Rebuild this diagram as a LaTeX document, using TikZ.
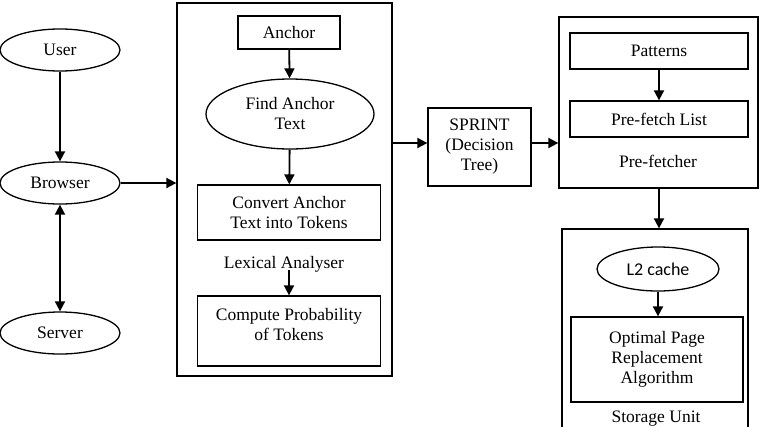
\documentclass[tikz,border=0pt]{standalone}
\usepackage{fontspec}
\setmainfont{Liberation Serif}
\newfontfamily\calib{Carlito}
\usetikzlibrary{shapes.geometric,arrows.meta}
\tikzset{
  arr/.style={line width=1.8pt,-{Triangle[length=10pt,width=10pt]}},
  dblarr/.style={line width=1.8pt,{Triangle[length=10pt,width=10pt]}-{Triangle[length=10pt,width=10pt]}},
  box/.style={draw,line width=1.3pt,inner sep=0pt,align=center,font=\fontsize{17.5}{20}\selectfont},
  ell/.style={ellipse,draw,line width=1.3pt,inner sep=0pt,align=center,font=\fontsize{17.5}{20}\selectfont},
  lbl/.style={inner sep=0pt,align=center,font=\fontsize{17.5}{20}\selectfont}
}
\begin{document}
\begin{tikzpicture}[x=1pt,y=-1pt]
\useasboundingbox (0,0) rectangle (759,426);
\clip (0,0) rectangle (759,426);
% left ellipses
\node[ell,minimum width=120pt,minimum height=42pt] (user) at (60,50) {User};
\node[ell,minimum width=120pt,minimum height=42pt] (browser) at (60,183) {Browser};
\node[ell,minimum width=120pt,minimum height=42pt] (server) at (60,333) {Server};
% lexical analyser box
\node[box,minimum width=215pt,minimum height=373pt] (lex) at (284.5,189.5) {};
\node[box,minimum width=102pt,minimum height=33pt] (anchor) at (289,32.5) {Anchor};
\node[ell,minimum width=168pt,minimum height=70pt] (find) at (290,114) {Find Anchor\\Text};
\node[box,minimum width=183pt,minimum height=55pt] (convert) at (289,212.5) {Convert Anchor\\Text into Tokens};
\node[lbl] (lexlbl) at (284,264) {Lexical Analyser};
\node[box,minimum width=183pt,minimum height=70pt] (compute) at (289,331) {};
\node[lbl] (computelbl) at (289,325) {Compute Probability\\of Tokens};
\coordinate (lexarr) at (289,270);
% sprint
\node[box,minimum width=103pt,minimum height=78pt] (sprint) at (479.5,147) {SPRINT\\(Decision\\Tree)};
% prefetcher
\node[box,minimum width=199pt,minimum height=171pt] (pref) at (658.5,102.5) {};
\node[box,minimum width=178pt,minimum height=36pt] (patterns) at (659,51) {Patterns};
\node[box,minimum width=178pt,minimum height=36pt] (plist) at (659,119) {Pre-fetch List};
\node[lbl] (preflbl) at (658,161) {Pre-fetcher};
% storage unit
\node[box,minimum width=186pt,minimum height=215pt] (store) at (655,336.5) {};
\node[ell,minimum width=122pt,minimum height=44pt,font=\calib\fontsize{18}{20}\selectfont] (l2) at (658,269) {L2 cache};
\node[box,minimum width=172pt,minimum height=85pt] (opt) at (657,359.5) {Optimal Page\\Replacement\\Algorithm};
\node[lbl,anchor=base] (storelbl) at (656,422) {Storage Unit};
% connectors
\draw[arr] (user) -- (browser);
\draw[dblarr] (browser) -- (server);
\draw[arr] (browser.east) -- (browser.east -| lex.west);
\draw[arr] (anchor) -- (find);
\draw[arr] (find) -- (convert);
\draw[arr] (lexarr) -- (compute);
\draw[arr] ([yshift=4pt]sprint.west -| lex.east) -- ([yshift=4pt]sprint.west);
\draw[arr] ([yshift=4pt]sprint.east) -- ([yshift=4pt]sprint.east -| pref.west);
\draw[arr] (patterns) -- (plist);
\draw[arr] (pref.south -| patterns.south) -- (patterns.south |- store.north);
\draw[arr] (l2) -- (l2.south |- opt.north);
\end{tikzpicture}
\end{document}
